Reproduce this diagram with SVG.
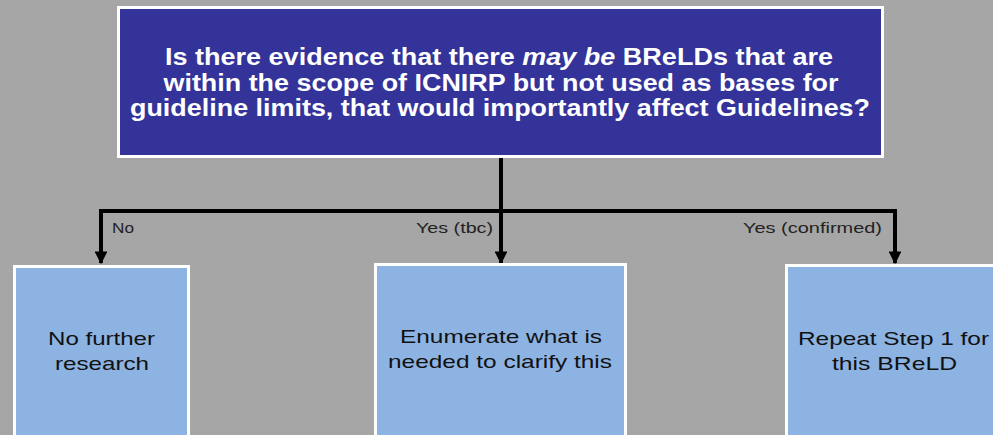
<svg xmlns="http://www.w3.org/2000/svg" width="993" height="435" viewBox="0 0 993 435">
<defs>
<style>
.box{stroke:#ffffff;stroke-width:3}
.top{fill:#333399}
.leaf{fill:#8db3e2}
.qt{font-family:"Liberation Sans",Arial,sans-serif;font-weight:bold;font-size:23px;fill:#ffffff;text-anchor:middle}
.lt{font-family:"Liberation Sans",Arial,sans-serif;font-size:19px;fill:#111111;text-anchor:middle}
.el{font-family:"Liberation Sans",Arial,sans-serif;font-size:15px;fill:#222222}
.con{fill:none;stroke:#000000;stroke-width:4}
</style>
<marker id="ah" viewBox="0 0 10 10" refX="9" refY="5" markerWidth="3.2" markerHeight="3.2" orient="auto" markerUnits="strokeWidth">
<path d="M0,0 L10,5 L0,10 z" fill="#000000"/>
</marker>
</defs>
<rect x="0" y="0" width="993" height="435" fill="#a6a6a6"/>
<g id="connectors">
<line class="con" x1="501" y1="158" x2="501" y2="211"/>
<polyline class="con" points="101,263 101,211 895,211 895,263" marker-end="url(#ah)"/>
<path class="con" d="M101,211 L101,263" marker-end="url(#ah)"/>
<path class="con" d="M501,211 L501,263" marker-end="url(#ah)"/>
<text class="el" x="112" y="233" textLength="22" lengthAdjust="spacingAndGlyphs">No</text>
<text class="el" x="416" y="233" textLength="77" lengthAdjust="spacingAndGlyphs">Yes (tbc)</text>
<text class="el" x="743" y="233" textLength="139" lengthAdjust="spacingAndGlyphs">Yes (confirmed)</text>
</g>
<g id="question">
<rect class="box top" x="118.5" y="7.5" width="764" height="149"/>
<text class="qt" x="499" y="65" textLength="668" lengthAdjust="spacingAndGlyphs">Is there evidence that there <tspan font-style="italic">may be</tspan> BReLDs that are</text>
<text class="qt" x="501" y="90.5" textLength="675" lengthAdjust="spacingAndGlyphs">within the scope of ICNIRP  but not used as bases for</text>
<text class="qt" x="500" y="116" textLength="740" lengthAdjust="spacingAndGlyphs">guideline limits, that would importantly affect Guidelines?</text>
</g>
<g id="no-further">
<rect class="box leaf" x="14.5" y="266.5" width="174" height="172"/>
<text class="lt" x="101.5" y="345" textLength="107" lengthAdjust="spacingAndGlyphs">No further</text>
<text class="lt" x="102" y="370" textLength="94" lengthAdjust="spacingAndGlyphs">research</text>
</g>
<g id="enumerate">
<rect class="box leaf" x="375.5" y="264.5" width="250" height="174"/>
<text class="lt" x="501" y="343" textLength="202" lengthAdjust="spacingAndGlyphs">Enumerate what is</text>
<text class="lt" x="500" y="368" textLength="224" lengthAdjust="spacingAndGlyphs">needed to clarify this</text>
</g>
<g id="repeat">
<rect class="box leaf" x="786.5" y="265.5" width="212" height="173"/>
<text class="lt" x="893.5" y="345" textLength="191" lengthAdjust="spacingAndGlyphs">Repeat Step 1 for</text>
<text class="lt" x="894.5" y="370" textLength="125" lengthAdjust="spacingAndGlyphs">this BReLD</text>
</g>
</svg>
